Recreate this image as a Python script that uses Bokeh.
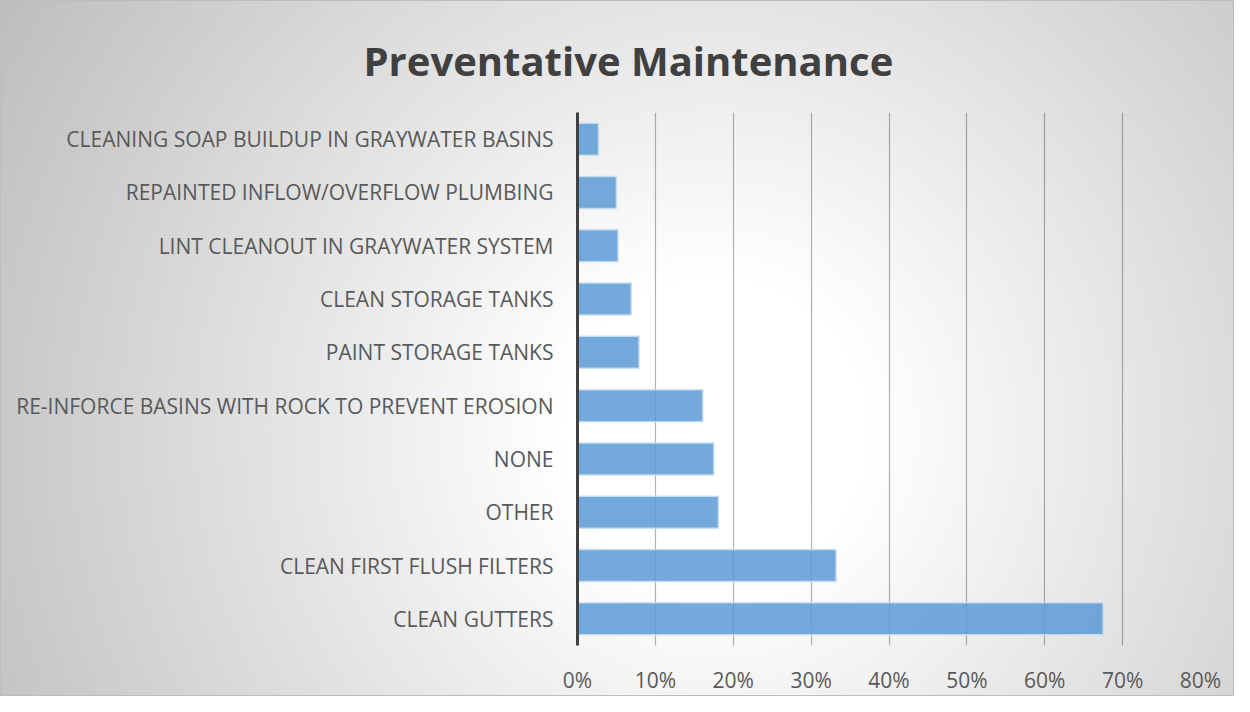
from bokeh.plotting import figure
from bokeh.models import FactorRange, Range1d, FixedTicker, NumeralTickFormatter
from bokeh.embed import file_html
from bokeh.resources import INLINE

categories = [
    "CLEAN GUTTERS",
    "CLEAN FIRST FLUSH FILTERS",
    "OTHER",
    "NONE",
    "RE-INFORCE BASINS WITH ROCK TO PREVENT EROSION",
    "PAINT STORAGE TANKS",
    "CLEAN STORAGE TANKS",
    "LINT CLEANOUT IN GRAYWATER SYSTEM",
    "REPAINTED INFLOW/OVERFLOW PLUMBING",
    "CLEANING SOAP BUILDUP IN GRAYWATER BASINS",
]
values = [0.675, 0.332, 0.181, 0.175, 0.161, 0.079, 0.069, 0.052, 0.050, 0.027]
x_ticks = [0, 0.1, 0.2, 0.3, 0.4, 0.5, 0.6, 0.7, 0.8]
title_text = "Preventative Maintenance"

p = figure(
    width=1234, height=696,
    y_range=FactorRange(factors=categories, range_padding=0),
    x_range=Range1d(0, 0.8),
    output_backend="svg", toolbar_location=None,
    min_border_left=577, min_border_right=34,
    min_border_top=112, min_border_bottom=46,
)

p.hbar(y=categories, right=values, left=0, height=0.6,
       fill_color="#5B9BD5", fill_alpha=0.85,
       line_color="#c9def2", line_width=1.5, line_alpha=0.9)

p.background_fill_alpha = 0
p.border_fill_alpha = 0
p.outline_line_color = None
p.styles = {
    "background-image": "radial-gradient(circle farthest-corner at 58% 62%, #ffffff 0%, #ffffff 18%, #bdbdbd 100%)",
    "outline": "1px solid #bdbdbd",
    "outline-offset": "-1px",
}

p.title.text = title_text
p.title.text_font = "Open Sans"
p.title.text_font_style = "bold"
p.title.text_font_size = "40px"
p.title.text_color = "#404040"
p.title.text_line_height = 1.0
p.title.align = "left"
p.title.offset = -214
p.title.standoff = 50

p.xgrid.ticker = FixedTicker(ticks=x_ticks)
p.xgrid.grid_line_color = "black"
p.xgrid.grid_line_alpha = 0.3
p.xgrid.grid_line_width = 1.2
p.ygrid.grid_line_color = None

p.xaxis.ticker = FixedTicker(ticks=x_ticks)
p.xaxis.formatter = NumeralTickFormatter(format="0%")
p.xaxis.axis_line_color = None
p.xaxis.major_tick_line_color = None
p.xaxis.minor_tick_line_color = None
p.xaxis.major_label_text_font = "Open Sans"
p.xaxis.major_label_text_font_size = "21px"
p.xaxis.major_label_text_color = "#595959"
p.xaxis.major_label_standoff = 14

p.yaxis.axis_line_color = "#404040"
p.yaxis.axis_line_width = 3
p.yaxis.major_tick_line_color = None
p.yaxis.minor_tick_line_color = None
p.yaxis.major_label_text_font = "Open Sans"
p.yaxis.major_label_text_font_size = "21px"
p.yaxis.major_label_text_color = "#595959"
p.yaxis.major_label_standoff = 18

open("out.html", "w").write(file_html(p, INLINE))
